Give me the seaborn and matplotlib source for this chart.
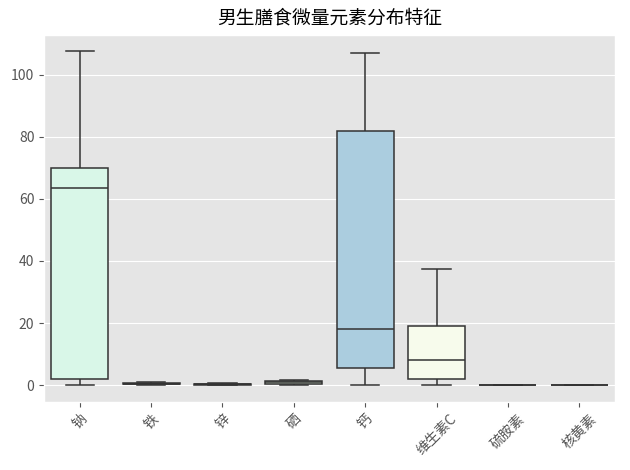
import numpy as np
import pandas as pd
import seaborn as sns
import matplotlib
import matplotlib.pyplot as plt
matplotlib.use('Agg')

# categories and five-number style samples
nutrients = ['钠', '铁', '锌', '硒', '钙', '维生素C', '硫胺素', '核黄素']
sodium = [0.0, 2.0, 63.5, 70.0, 107.5]
iron = [0.0, 0.3, 0.5, 0.7, 1.0]
zinc = [0.0, 0.1, 0.3, 0.5, 0.8]
selenium = [0.2, 0.4, 0.9, 1.3, 1.6]
calcium = [0.0, 5.5, 18.0, 82.0, 107.0]
vitamin_c = [0.0, 2.0, 8.0, 19.0, 37.5]
thiamine = [0.0, 0.03, 0.06, 0.1, 0.15]
riboflavin = [0.0, 0.03, 0.06, 0.1, 0.15]
box_colors = ['#d9f7e8', '#e3f1e0', '#eaf3e3', '#d8ead2',
              '#abcddf', '#f7fbec', '#e8f0e8', '#e8f0e8']

values = [sodium, iron, zinc, selenium, calcium, vitamin_c, thiamine, riboflavin]
df = pd.DataFrame({
    'nutrient': np.repeat(nutrients, [len(v) for v in values]),
    'value': np.concatenate(values),
})

plt.style.use('ggplot')
plt.rcParams['font.family'] = ['Noto Sans CJK SC', 'DejaVu Sans']
plt.rcParams['axes.unicode_minus'] = False

fig, ax = plt.subplots(figsize=(6.3, 4.7), dpi=100)
sns.boxplot(
    data=df, x='nutrient', y='value', hue='nutrient',
    order=nutrients, palette=dict(zip(nutrients, box_colors)),
    saturation=1, showfliers=False, linecolor='#333333', linewidth=1.1,
    legend=False, ax=ax,
)

ax.set_title('男生膳食微量元素分布特征', fontsize=13.5, fontweight='medium',
             color='black', pad=8)
ax.set_xlabel('')
ax.set_ylabel('')
ax.tick_params(axis='x', rotation=45, labelsize=10)
ax.tick_params(axis='y', labelsize=10)
ax.set_yticks([0, 20, 40, 60, 80, 100])

fig.subplots_adjust(left=0.070, right=0.976, top=0.926, bottom=0.145)
plt.savefig('out.png', dpi=100)
